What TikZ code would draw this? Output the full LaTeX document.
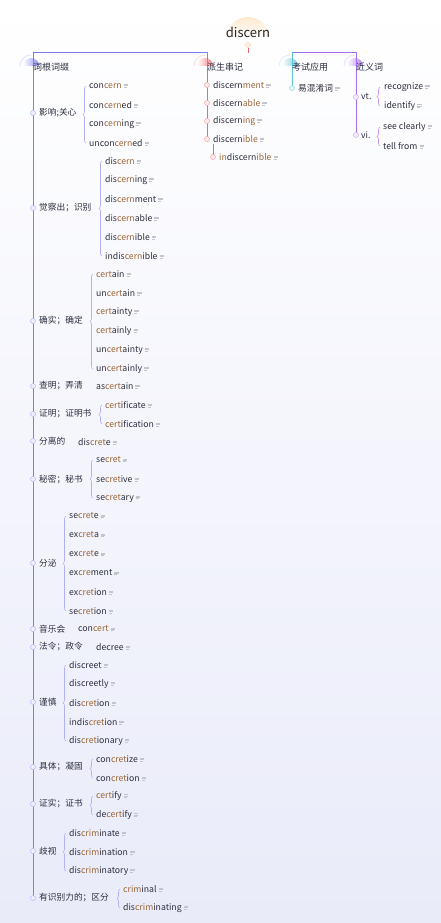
\documentclass[tikz,border=0pt]{standalone}
\usepackage{fontspec}
\setmainfont{Noto Sans CJK SC}
\usepackage{tikz}
\usetikzlibrary{positioning, decorations.pathreplacing}
\usepackage{xcolor}
\definecolor{txt}{HTML}{2E2E40}
\definecolor{rt}{HTML}{9A6637}
\definecolor{blu}{HTML}{7D7DF3}
\definecolor{pred}{HTML}{F2676B}
\definecolor{tea}{HTML}{5EC3D8}
\definecolor{purp}{HTML}{A56CEB}
\definecolor{ntg}{HTML}{C4C4CC}
\definecolor{bgl}{HTML}{E9EBF9}
\newcommand{\hl}[1]{{\color{rt}#1}}
\newcommand{\nt}{\hspace{2pt}{\color{ntg}\raisebox{1pt}{\vbox{\hrule width4.5pt height.55pt\vskip.9pt\hrule width4.5pt height.55pt\vskip.9pt\hrule width3pt height.55pt}}}}

\begin{document}
\begin{tikzpicture}[x=1pt,y=-1pt,node distance=6pt]
  \tikzstyle{leaf}=[anchor=west,inner sep=0pt,text=txt,font=\fontsize{8.7}{10}\selectfont]
  \tikzstyle{sub}=[leaf,font=\fontsize{8.7}{10}\selectfont]
  \tikzstyle{topic}=[leaf,font=\fontsize{9}{11}\selectfont]
  \tikzstyle{bdot}=[circle,draw=blu!55,fill=blu!12,line width=.5pt,inner sep=0pt,minimum size=5pt]
  \tikzstyle{rdot}=[bdot,draw=pred!60,fill=pred!12]
  \tikzstyle{tdot}=[bdot,draw=tea!70,fill=tea!12]
  \tikzstyle{pdot}=[bdot,draw=purp!55,fill=purp!12]
  \tikzstyle{brc}=[draw=blu!60,line width=.6pt,decorate,decoration={brace,amplitude=3pt}]
  \tikzstyle{pbrc}=[brc,draw=purp!70]

  % background and glow
  \shade[top color=white,bottom color=bgl] (0,0) rectangle (441,923);
  \useasboundingbox (0,0) rectangle (441,923);
  \shade[top color=orange!18,bottom color=white] (227,38) arc[start angle=180,end angle=360,radius=21] -- cycle;
  \shade[left color=white,right color=blu!85]  (23,66)  arc[start angle=180,end angle=360,radius=8] -- cycle;
  \shade[left color=white,right color=pred!85] (197,66) arc[start angle=180,end angle=360,radius=8] -- cycle;
  \shade[left color=white,right color=tea!85]  (282,66) arc[start angle=180,end angle=360,radius=8] -- cycle;
  \shade[left color=white,right color=purp!85] (347,66) arc[start angle=180,end angle=360,radius=8] -- cycle;
  \draw[blu!20,line width=1pt]  (20,66)  arc[start angle=180,end angle=270,radius=11];
  \draw[pred!20,line width=1pt] (194,66) arc[start angle=180,end angle=270,radius=11];
  \draw[tea!20,line width=1pt]  (279,66) arc[start angle=180,end angle=270,radius=11];
  \draw[purp!20,line width=1pt] (344,66) arc[start angle=180,end angle=270,radius=11];

  % root
  \node[inner sep=0pt,text=black!85,font=\fontsize{13}{15}\selectfont] (root) at (248,32) {discern};
  \node[circle,draw=orange!35,fill=orange!12,inner sep=0pt,minimum size=5pt] (rk) at (248,45) {};
  \coordinate (rs) at (248,53);
  \draw[pred,line width=.8pt] (rk) -- (rs);

  % junctions and trunk points
  \coordinate (jl) at (207,52);
  \coordinate (jr) at (292,52);
  \coordinate (m1)  at (33,113);  \coordinate (m2)  at (33,208);  \coordinate (m3)  at (33,321);
  \coordinate (m4)  at (33,386);  \coordinate (m5)  at (33,414);  \coordinate (m6)  at (33,441);
  \coordinate (m7)  at (33,479);  \coordinate (m8)  at (33,563);  \coordinate (m9)  at (33,629);
  \coordinate (m10) at (33,647);  \coordinate (m11) at (33,702);  \coordinate (m12) at (33,767);
  \coordinate (m13) at (33,804);  \coordinate (m14) at (33,851);  \coordinate (m15) at (33,898);
  \coordinate (p1) at (207,85);   \coordinate (p2) at (207,103);
  \coordinate (p3) at (207,121);  \coordinate (p4) at (207,139);
  \coordinate (p5) at (213,157);
  \coordinate (k1) at (292,88);
  \coordinate (v1) at (356,97);   \coordinate (v2) at (356,135);

  \draw[blu,line width=.8pt]  (jl) -| (m15);
  \draw[pred,line width=.8pt] (jl) -- (p4);
  \draw[purp,line width=.8pt] (jr) -| (v2);
  \draw[tea,line width=.8pt]  (jr) -- (k1);

  % main topics
  \node[topic] (cg) at (33,67)  {词根词缀};
  \node[topic] (ps) at (207,67) {派生串记};
  \node[topic] (ks) at (292,67) {考试应用};
  \node[topic] (jy) at (356,67) {近义词};

  % 词根词缀
  \node[sub] (cg1)  [right=of m1]  {影响;关心};
  \node[sub] (cg2)  [right=of m2]  {觉察出；识别};
  \node[sub] (cg3)  [right=of m3]  {确实；确定};
  \node[sub] (cg4)  [right=of m4]  {查明；弄清};
  \node[sub] (cg5)  [right=of m5]  {证明；证明书};
  \node[sub] (cg6)  [right=of m6]  {分离的};
  \node[sub] (cg7)  [right=of m7]  {秘密；秘书};
  \node[sub] (cg8)  [right=of m8]  {分泌};
  \node[sub] (cg9)  [right=of m9]  {音乐会};
  \node[sub] (cg10) [right=of m10] {法令；政令};
  \node[sub] (cg11) [right=of m11] {谨慎};
  \node[sub] (cg12) [right=of m12] {具体；凝固};
  \node[sub] (cg13) [right=of m13] {证实；证书};
  \node[sub] (cg14) [right=of m14] {歧视};
  \node[sub] (cg15) [right=of m15] {有识别力的；区分};
  \foreach \i in {1,...,15} \node[bdot] at (m\i) {};

  \node[leaf] (c1a) at (89,86)  {con\hl{cern}\nt};
  \node[leaf] (c1b) at (89,105) {con\hl{cern}ed\nt};
  \node[leaf] (c1c) at (89,124) {con\hl{cern}ing\nt};
  \node[leaf] (c1d) at (89,143) {uncon\hl{cern}ed\nt};

  \node[leaf] (c2a) at (105,161) {dis\hl{cern}\nt};
  \node[leaf] (c2b) at (105,180) {dis\hl{cern}ing\nt};
  \node[leaf] (c2c) at (105,199) {dis\hl{cern}ment\nt};
  \node[leaf] (c2d) at (105,218) {dis\hl{cern}able\nt};
  \node[leaf] (c2e) at (105,237) {dis\hl{cern}ible\nt};
  \node[leaf] (c2f) at (105,256) {indis\hl{cern}ible\nt};

  \node[leaf] (c3a) at (96,274) {\hl{cert}ain\nt};
  \node[leaf] (c3b) at (96,293) {un\hl{cert}ain\nt};
  \node[leaf] (c3c) at (96,312) {\hl{cert}ainty\nt};
  \node[leaf] (c3d) at (96,331) {\hl{cert}ainly\nt};
  \node[leaf] (c3e) at (96,350) {un\hl{cert}ainty\nt};
  \node[leaf] (c3f) at (96,369) {un\hl{cert}ainly\nt};

  \node[leaf] (c4a) at (96,386) {as\hl{cert}ain\nt};

  \node[leaf] (c5a) at (105,405) {\hl{cert}ificate\nt};
  \node[leaf] (c5b) at (105,424) {\hl{cert}ification\nt};

  \node[leaf] (c6a) at (78,442) {dis\hl{cret}e\nt};

  \node[leaf] (c7a) at (96,460) {se\hl{cret}\nt};
  \node[leaf] (c7b) at (96,479) {se\hl{cret}ive\nt};
  \node[leaf] (c7c) at (96,498) {se\hl{cret}ary\nt};

  \node[leaf] (c8a) at (69,516) {se\hl{cret}e\nt};
  \node[leaf] (c8b) at (69,535) {ex\hl{cret}a\nt};
  \node[leaf] (c8c) at (69,554) {ex\hl{cret}e\nt};
  \node[leaf] (c8d) at (69,573) {ex\hl{cre}ment\nt};
  \node[leaf] (c8e) at (69,592) {ex\hl{cret}ion\nt};
  \node[leaf] (c8f) at (69,611) {se\hl{cret}ion\nt};

  \node[leaf] (c9a)  at (78,629) {con\hl{cert}\nt};
  \node[leaf] (c10a) at (96,647) {decree\nt};

  \node[leaf] (c11a) at (69,665) {discreet\nt};
  \node[leaf] (c11b) at (69,684) {discreetly\nt};
  \node[leaf] (c11c) at (69,703) {dis\hl{cret}ion\nt};
  \node[leaf] (c11d) at (69,722) {indis\hl{cret}ion\nt};
  \node[leaf] (c11e) at (69,741) {dis\hl{cret}ionary\nt};

  \node[leaf] (c12a) at (96,759) {con\hl{cret}ize\nt};
  \node[leaf] (c12b) at (96,778) {con\hl{cret}ion\nt};

  \node[leaf] (c13a) at (96,796) {\hl{cert}ify\nt};
  \node[leaf] (c13b) at (96,815) {de\hl{cert}ify\nt};

  \node[leaf] (c14a) at (69,833) {dis\hl{crim}inate\nt};
  \node[leaf] (c14b) at (69,852) {dis\hl{crim}ination\nt};
  \node[leaf] (c14c) at (69,871) {dis\hl{crim}inatory\nt};

  \node[leaf] (c15a) at (123,889) {\hl{crim}inal\nt};
  \node[leaf] (c15b) at (123,908) {dis\hl{crim}inating\nt};

  \draw[brc] ([xshift=-3pt]c1d.west)  -- ([xshift=-3pt]c1a.west);
  \draw[brc] ([xshift=-3pt]c2f.west)  -- ([xshift=-3pt]c2a.west);
  \draw[brc] ([xshift=-3pt]c3f.west)  -- ([xshift=-3pt]c3a.west);
  \draw[brc] ([xshift=-3pt]c5b.west)  -- ([xshift=-3pt]c5a.west);
  \draw[brc] ([xshift=-3pt]c7c.west)  -- ([xshift=-3pt]c7a.west);
  \draw[brc] ([xshift=-3pt]c8f.west)  -- ([xshift=-3pt]c8a.west);
  \draw[brc] ([xshift=-3pt]c11e.west) -- ([xshift=-3pt]c11a.west);
  \draw[brc] ([xshift=-3pt]c12b.west) -- ([xshift=-3pt]c12a.west);
  \draw[brc] ([xshift=-3pt]c13b.west) -- ([xshift=-3pt]c13a.west);
  \draw[brc] ([xshift=-3pt]c14c.west) -- ([xshift=-3pt]c14a.west);
  \draw[brc] ([xshift=-3pt]c15b.west) -- ([xshift=-3pt]c15a.west);

  % 派生串记
  \node[leaf] (d1) [right=of p1] {discern\hl{ment}\nt};
  \node[leaf] (d2) [right=of p2] {discern\hl{able}\nt};
  \node[leaf] (d3) [right=of p3] {discern\hl{ing}\nt};
  \node[leaf] (d4) [right=of p4] {discern\hl{ible}\nt};
  \node[leaf] (d5) [right=of p5] {\hl{in}discern\hl{ible}\nt};
  \draw[pred,line width=.8pt] ([yshift=-5pt]d4.west) -- (p5);
  \foreach \i in {1,...,5} \node[rdot] at (p\i) {};

  % 考试应用
  \node[sub] (k1t) [right=of k1] {易混淆词\nt};
  \node[tdot] at (k1) {};

  % 近义词
  \node[sub] (vt) [right=5pt of v1] {vt.};
  \node[sub] (vi) [right=5pt of v2] {vi.};
  \node[pdot] at (v1) {};
  \node[pdot] at (v2) {};
  \node[leaf] (s1) at (384,87)  {recognize\nt};
  \node[leaf] (s2) at (384,106) {identify\nt};
  \node[leaf] (s3) at (383,127) {see clearly\nt};
  \node[leaf] (s4) at (383,146) {tell from\nt};
  \draw[pbrc] ([xshift=-4pt]s2.west) -- ([xshift=-4pt]s1.west);
  \draw[pbrc] ([xshift=-3pt]s4.west) -- ([xshift=-3pt]s3.west);
\end{tikzpicture}
\end{document}
